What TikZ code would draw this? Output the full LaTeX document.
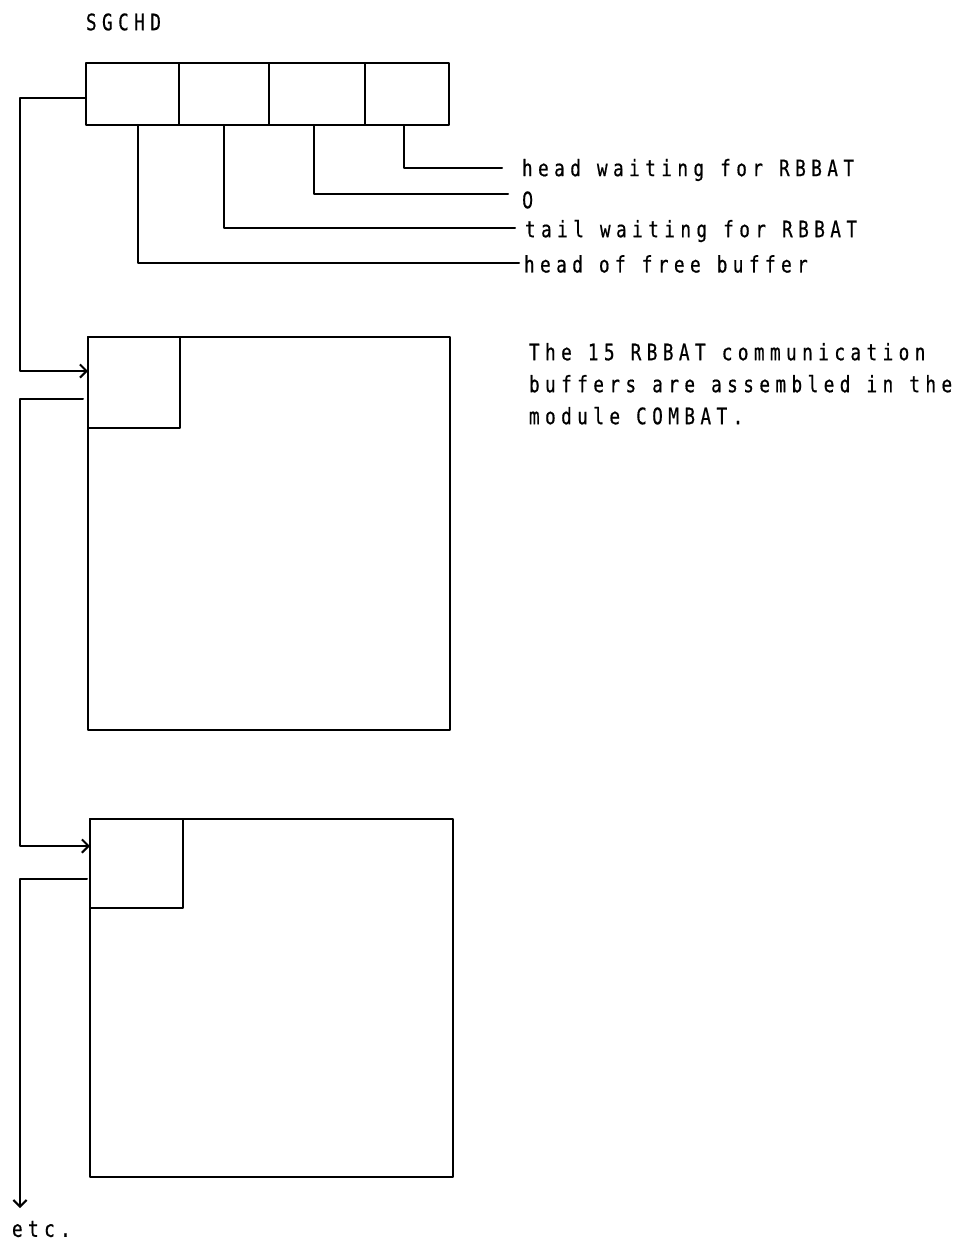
\documentclass[tikz,border=0pt]{standalone}
\usepackage{fontspec}
\usetikzlibrary{arrows.meta}
\newfontfamily\plotfont[FakeStretch=0.78,LetterSpace=24,FakeBold=0.6]{DejaVu Sans Mono}
\newfontfamily\zerofont[FakeStretch=0.78,LetterSpace=24,FakeBold=0.6]{DejaVu Sans}
\begin{document}
\begin{tikzpicture}[x=0.75pt,y=-0.75pt,
  line width=1.5pt, line join=round, line cap=round,
  box/.style={draw, rectangle, inner sep=0pt, outer sep=0pt},
  lbl/.style={inner sep=0pt, outer sep=0pt, anchor=west, font=\plotfont\fontsize{17}{24}\selectfont},
  conn/.style={draw},
  arr/.style={draw, -{Straight Barb[length=5pt,width=10pt,line width=1.5pt]}}]
\useasboundingbox (0,0) rectangle (959,1241);

% title
\node[lbl] (title) at (86,22) {SGCHD};

% register cells
\node[box, minimum width=69.75pt, minimum height=46.5pt] (c1) at (132.5,94) {};
\node[box, minimum width=67.5pt, minimum height=46.5pt] (c2) at (224,94) {};
\node[box, minimum width=72pt, minimum height=46.5pt] (c3) at (317,94) {};
\node[box, minimum width=63pt, minimum height=46.5pt] (c4) at (407,94) {};

% labels
\node[lbl] (l4) at (522,170) {head waiting for RBBAT};
\node[lbl] (l3) at (522,200) {\zerofont 0};
\node[lbl] (l2) at (525,231) {tail waiting for RBBAT};
\node[lbl] (l1) at (524,264) {head of free buffer};

\coordinate (e4) at (502,168);
\coordinate (e3) at (508,194);
\coordinate (e2) at (515,228);
\coordinate (e1) at (519,263);

\draw[conn] (c4.south -| 404,0) |- (e4);
\draw[conn] (c3.south -| 314,0) |- (e3);
\draw[conn] (c2.south -| 224,0) |- (e2);
\draw[conn] (c1.south -| 138,0) |- (e1);

% buffers
\node[box, minimum width=271.5pt, minimum height=294.75pt] (b1) at (269,533.5) {};
\node[box, minimum width=69pt, minimum height=68.25pt] (i1) at (134,382.5) {};
\node[box, minimum width=272.25pt, minimum height=268.5pt] (b2) at (271.5,998) {};
\node[box, minimum width=69.75pt, minimum height=66.75pt] (i2) at (136.5,863.5) {};

% paragraph
\node[lbl, anchor=north west, align=left] (para) at (529,343)
  {The 15 RBBAT communication\\buffers are assembled in the\\module COMBAT.};

% links
\coordinate (s0) at (86,98);
\coordinate (k0) at (20,98);
\coordinate (a1) at (88,371);
\draw[arr] (s0) -- (k0) |- (a1);

\coordinate (s1) at (83,399);
\coordinate (k1) at (20,399);
\coordinate (a2) at (90,846);
\draw[arr] (s1) -- (k1) |- (a2);

\coordinate (s2) at (87,879);
\coordinate (k2) at (20,879);
\coordinate (a3) at (20,1208);
\draw[arr] (s2) -- (k2) -- (a3);

\node[lbl] (etc) at (12,1229) {etc.};
\end{tikzpicture}
\end{document}
